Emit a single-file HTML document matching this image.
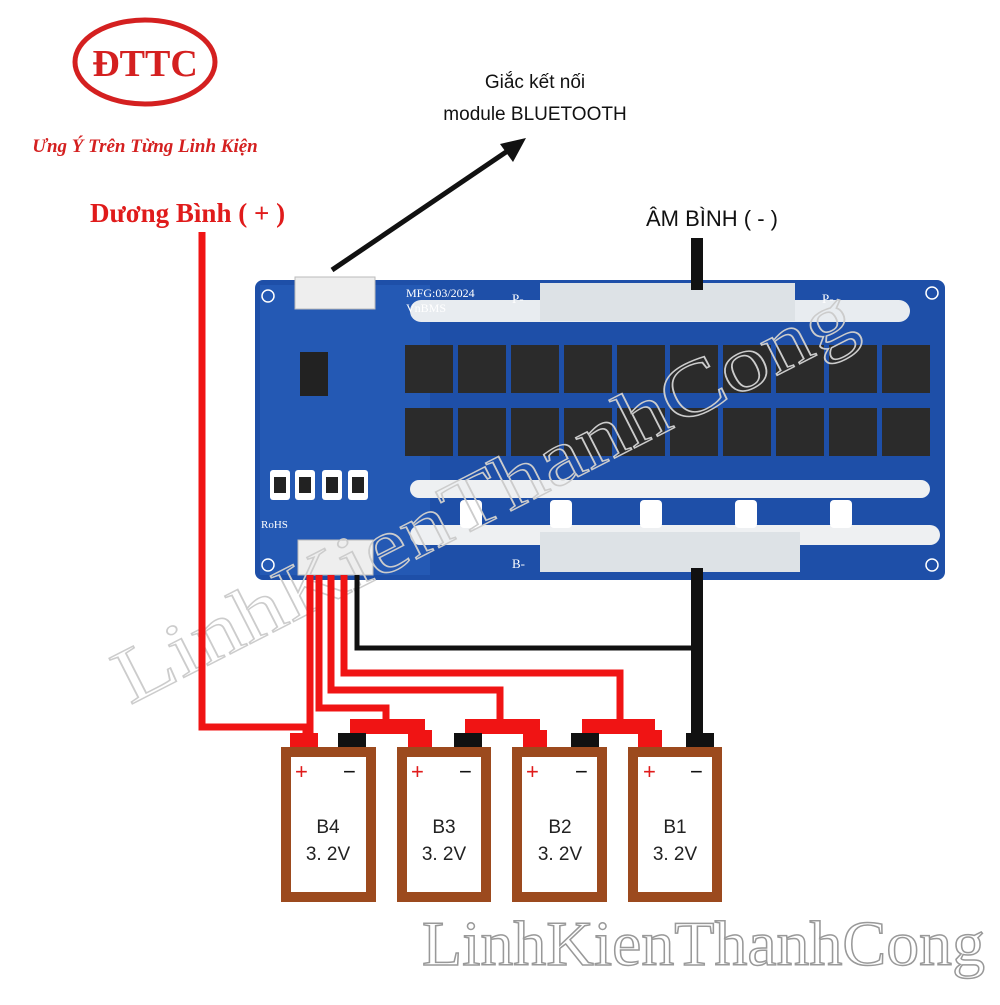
<!DOCTYPE html>
<html><head><meta charset="utf-8"><style>
body{margin:0;background:#fff;width:1000px;height:1000px;overflow:hidden}
</style></head><body>
<svg width="1000" height="1000" viewBox="0 0 1000 1000" xmlns="http://www.w3.org/2000/svg" font-family="Liberation Sans, sans-serif">
<rect width="1000" height="1000" fill="#fff"/>
<ellipse cx="145" cy="62" rx="70" ry="42" fill="none" stroke="#d42020" stroke-width="5"/>
<text x="145" y="76" font-family="Liberation Serif, serif" font-weight="bold" font-size="38" fill="#d42020" text-anchor="middle">ĐTTC</text>
<text x="145" y="152" font-family="Liberation Serif, serif" font-weight="bold" font-style="italic" font-size="19" fill="#d42020" text-anchor="middle">Ưng Ý Trên Từng Linh Kiện</text>
<text x="90" y="222" font-family="Liberation Serif, serif" font-weight="bold" font-size="27" fill="#e01b1b">Dương Bình ( + )</text>
<text x="535" y="88" font-size="19" fill="#111" text-anchor="middle">Giắc kết nối</text>
<text x="535" y="120" font-size="19" fill="#111" text-anchor="middle">module BLUETOOTH</text>
<text x="712" y="226" font-size="22" fill="#111" text-anchor="middle">ÂM BÌNH ( - )</text>
<line x1="332" y1="270" x2="512" y2="148" stroke="#111" stroke-width="5"/>
<polygon points="526,138 500,144 513,162" fill="#111"/>
<rect x="255" y="280" width="690" height="300" rx="8" fill="#1e4fa8"/>
<rect x="260" y="285" width="170" height="290" fill="#2a63c0" opacity="0.5"/>
<rect x="410" y="300" width="500" height="22" rx="11" fill="#e8ecf0"/>
<rect x="540" y="283" width="255" height="38" fill="#dde2e6"/>
<text x="512" y="303" font-family="Liberation Serif, serif" font-size="13" fill="#fff">P-</text>
<text x="822" y="303" font-family="Liberation Serif, serif" font-size="13" fill="#fff">P-</text>
<text x="406" y="297" font-family="Liberation Serif, serif" font-size="12" fill="#fff">MFG:03/2024</text>
<text x="406" y="312" font-family="Liberation Serif, serif" font-size="12" fill="#fff">VnBMS</text>
<rect x="410" y="480" width="520" height="18" rx="9" fill="#eef0f2"/>
<rect x="410" y="525" width="530" height="20" rx="10" fill="#eef0f2"/>
<rect x="540" y="532" width="260" height="40" fill="#dde2e6"/>
<text x="512" y="568" font-family="Liberation Serif, serif" font-size="13" fill="#fff">B-</text>
<g fill="#fff">
<rect x="460" y="500" width="22" height="28" rx="4"/>
<rect x="550" y="500" width="22" height="28" rx="4"/>
<rect x="640" y="500" width="22" height="28" rx="4"/>
<rect x="735" y="500" width="22" height="28" rx="4"/>
<rect x="830" y="500" width="22" height="28" rx="4"/>
</g>
<g fill="#2b2b2b">
<rect x="405" y="345" width="48" height="48"/><rect x="458" y="345" width="48" height="48"/><rect x="511" y="345" width="48" height="48"/><rect x="564" y="345" width="48" height="48"/><rect x="617" y="345" width="48" height="48"/><rect x="670" y="345" width="48" height="48"/><rect x="723" y="345" width="48" height="48"/><rect x="776" y="345" width="48" height="48"/><rect x="829" y="345" width="48" height="48"/><rect x="882" y="345" width="48" height="48"/>
<rect x="405" y="408" width="48" height="48"/><rect x="458" y="408" width="48" height="48"/><rect x="511" y="408" width="48" height="48"/><rect x="564" y="408" width="48" height="48"/><rect x="617" y="408" width="48" height="48"/><rect x="670" y="408" width="48" height="48"/><rect x="723" y="408" width="48" height="48"/><rect x="776" y="408" width="48" height="48"/><rect x="829" y="408" width="48" height="48"/><rect x="882" y="408" width="48" height="48"/>
</g>
<rect x="300" y="352" width="28" height="44" fill="#222"/>
<g fill="#fff"><rect x="270" y="470" width="20" height="30" rx="3"/><rect x="295" y="470" width="20" height="30" rx="3"/><rect x="322" y="470" width="20" height="30" rx="3"/><rect x="348" y="470" width="20" height="30" rx="3"/></g>
<g fill="#222"><rect x="274" y="477" width="12" height="16"/><rect x="299" y="477" width="12" height="16"/><rect x="326" y="477" width="12" height="16"/><rect x="352" y="477" width="12" height="16"/></g>
<text x="261" y="528" font-family="Liberation Serif, serif" font-size="11" fill="#fff">RoHS</text>
<circle cx="268" cy="296" r="6" fill="none" stroke="#fff" stroke-width="1.5"/>
<circle cx="268" cy="565" r="6" fill="none" stroke="#fff" stroke-width="1.5"/>
<circle cx="932" cy="293" r="6" fill="none" stroke="#fff" stroke-width="1.5"/>
<circle cx="932" cy="565" r="6" fill="none" stroke="#fff" stroke-width="1.5"/>
<rect x="295" y="277" width="80" height="32" fill="#eee" stroke="#bbb"/>
<rect x="298" y="540" width="75" height="35" fill="#eee" stroke="#bbb"/>
<text x="130" y="705" font-family="Liberation Serif, serif" font-size="78" fill="none" stroke="#ccc" stroke-width="1.5" textLength="820" lengthAdjust="spacingAndGlyphs" transform="rotate(-27 130 705)">LinhKienThanhCong</text>
<g fill="none" stroke="#f01414" stroke-width="7">
<polyline points="202,232 202,727 306,727 306,735"/>
<line x1="310" y1="575" x2="310" y2="735"/>
<polyline points="319,575 319,708 386,708 386,722"/>
<polyline points="331,575 331,690 500,690 500,722"/>
<polyline points="344,575 344,673 620,673 620,722"/>
</g>
<g fill="#f01414">
<polygon points="350,719 425,719 425,730 432,730 432,747 408,747 408,734 350,734"/>
<polygon points="465,719 540,719 540,730 547,730 547,747 523,747 523,734 465,734"/>
<polygon points="582,719 655,719 655,730 662,730 662,747 638,747 638,734 582,734"/>
<rect x="290" y="733" width="28" height="14"/>
</g>
<g fill="none" stroke="#111" stroke-width="5"><polyline points="357,575 357,648 697,648"/></g>
<rect x="691" y="238" width="12" height="52" fill="#111"/>
<rect x="691" y="568" width="12" height="175" fill="#111"/>
<g fill="#111">
<rect x="338" y="733" width="28" height="14"/><rect x="454" y="733" width="28" height="14"/><rect x="571" y="733" width="28" height="14"/><rect x="686" y="733" width="28" height="14"/>
</g>
<g fill="#fff" stroke="#9c4a1e" stroke-width="10">
<rect x="286" y="752" width="85" height="145"/><rect x="402" y="752" width="84" height="145"/><rect x="517" y="752" width="85" height="145"/><rect x="633" y="752" width="84" height="145"/>
</g>
<g font-size="22" fill="#e01b1b"><text x="295" y="779">+</text><text x="411" y="779">+</text><text x="526" y="779">+</text><text x="643" y="779">+</text></g>
<g font-size="22" fill="#111"><text x="343" y="779">−</text><text x="459" y="779">−</text><text x="575" y="779">−</text><text x="690" y="779">−</text></g>
<g font-size="19" fill="#222" text-anchor="middle">
<text x="328" y="833">B4</text><text x="328" y="860">3. 2V</text>
<text x="444" y="833">B3</text><text x="444" y="860">3. 2V</text>
<text x="560" y="833">B2</text><text x="560" y="860">3. 2V</text>
<text x="675" y="833">B1</text><text x="675" y="860">3. 2V</text>
</g>
<text x="422" y="965" font-family="Liberation Serif, serif" font-size="64" fill="#fff" stroke="#999" stroke-width="1.5" textLength="563" lengthAdjust="spacingAndGlyphs">LinhKienThanhCong</text>
</svg>
</body></html>
